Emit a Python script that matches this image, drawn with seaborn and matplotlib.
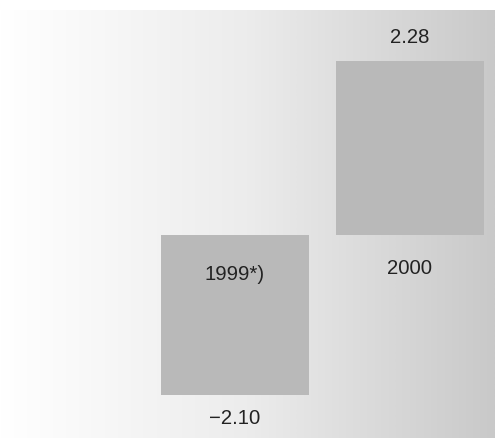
import numpy as np
import pandas as pd
import matplotlib
matplotlib.use("Agg")
import matplotlib.pyplot as plt
import seaborn as sns
from matplotlib.colors import LinearSegmentedColormap

# Annual change, percent
years = ["1999*)", "2000"]
values = [-2.10, 2.28]
value_labels = ["\u22122.10", "2.28"]

sns.set_theme(style="white")
plt.rcParams["font.family"] = ["Liberation Sans", "DejaVu Sans"]

W, H, DPI = 4.95, 4.39, 100
fig = plt.figure(figsize=(W, H), dpi=DPI)
fig.patch.set_facecolor("white")

# Horizontal grey gradient behind the plot
top_px = 11
bg = fig.add_axes([0, 0, 1, (439 - top_px) / 439])
cmap = LinearSegmentedColormap.from_list(
    "bg", [(0.0, "#ffffff"), (0.5, "#ececec"), (1.0, "#c9c9c9")])
bg.imshow(np.linspace(0, 1, 512)[None, :], aspect="auto", cmap=cmap,
          extent=[0, 1, 0, 1], interpolation="bilinear")
bg.set_axis_off()

ax = fig.add_axes([0, 0, 1, 1])
ax.patch.set_alpha(0)
df = pd.DataFrame({"year": years, "value": values})
sns.barplot(data=df, x="year", y="value", color="#b9b9b9", saturation=1,
            width=0.846, linewidth=0, ax=ax)

ax.set_xlim(-1.343, 1.486)
ax.set_ylim(-2.664, 3.097)
ax.set_axis_off()

txt = dict(ha="center", va="center", fontsize=14.6, color="#222222",
           textcoords="offset points")
pt = 72 / DPI
for i, (yr, v, lab) in enumerate(zip(years, values, value_labels)):
    if v >= 0:
        ax.annotate(lab, (i, v), xytext=(0, 25 * pt), **txt)
        ax.annotate(yr, (i, 0), xytext=(0, -33 * pt), **txt)
    else:
        ax.annotate(lab, (i, v), xytext=(0, -22 * pt), **txt)
        ax.annotate(yr, (i, 0), xytext=(0, -39 * pt), **txt)

fig.savefig("out.png", dpi=DPI)
